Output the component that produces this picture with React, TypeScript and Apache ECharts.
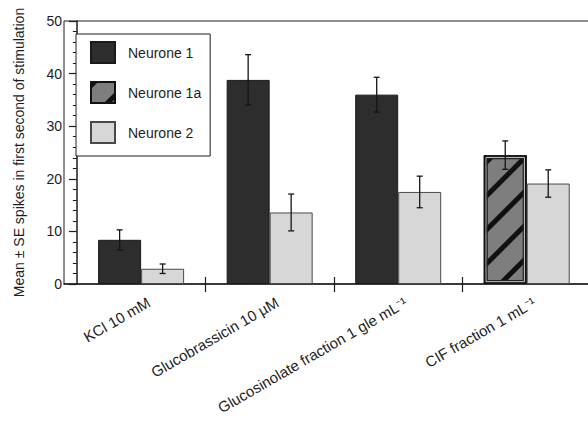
import React, { useEffect, useRef } from "react";
import * as echarts from "echarts";

// Stimulus categories along the x axis
const categories = [
  "KCl 10 mM",
  "Glucobrassicin 10 µM",
  "Glucosinolate fraction 1 gle mL⁻¹",
  "CIF fraction 1 mL⁻¹",
];

// Mean spikes in the first second of stimulation, with standard errors
const neurone1 = [8.4, 38.8, 36.0, null];
const neurone1Se = [1.9, 4.8, 3.3, null];
const neurone1a = [null, null, null, 24.5];
const neurone1aSe = [null, null, null, 2.7];
const neurone2 = [2.9, 13.6, 17.5, 19.1];
const neurone2Se = [0.9, 3.5, 3.0, 2.6];

const seriesNames = ["Neurone 1", "Neurone 1a", "Neurone 2"];

const BAR_W = 43;
const FONT = "'Liberation Sans', Arial, Helvetica, sans-serif";
const INK = "#1e1e1e";

const center = (i: number) => i + 0.5;
const toPoints = (vals: (number | null)[]) =>
  vals.map((v, i) => [center(i), v == null ? "-" : v]);

// [x, low, high, slot] rows for the error whiskers (slot -1 = left bar, +1 = right bar)
function errorRows() {
  const rows: number[][] = [];
  categories.forEach((_, i) => {
    const first = neurone1[i] ?? neurone1a[i];
    const firstSe = neurone1Se[i] ?? neurone1aSe[i];
    if (first != null && firstSe != null) rows.push([center(i), first - firstSe, first + firstSe, -1]);
    const second = neurone2[i];
    const secondSe = neurone2Se[i];
    if (second != null && secondSe != null) rows.push([center(i), second - secondSe, second + secondSe, 1]);
  });
  return rows;
}

// [x, value] rows for the inner frame of the Neurone 1a bars
const frameRows = neurone1a
  .map((v, i) => (v == null ? null : [center(i), v]))
  .filter((r) => r != null) as number[][];

export default function App() {
  const ref = useRef<HTMLDivElement>(null);

  useEffect(() => {
    if (!ref.current) return;
    const chart = echarts.init(ref.current, undefined, { renderer: "svg" });

    const capHalf = 3;
    const xRange = { min: -0.1, max: 4 };
    const boundaries = [1, 2, 3];
    const option: any = {
      animation: false,
      backgroundColor: "#ffffff",
      textStyle: { fontFamily: FONT, color: INK },
      grid: {
        show: true,
        borderColor: INK,
        borderWidth: 1,
        left: 64,
        top: 21,
        width: 527,
        height: 263,
        outerBoundsMode: "none",
        containLabel: false,
      },
      legend: {
        orient: "vertical",
        left: 76,
        top: 34,
        data: seriesNames,
        icon: "rect",
        itemWidth: 24,
        itemHeight: 21,
        itemGap: 17,
        padding: [7, 9, 12, 14],
        borderColor: INK,
        borderWidth: 1,
        backgroundColor: "#ffffff",
        textStyle: { fontSize: 14, color: INK, fontFamily: FONT, padding: [0, 0, 0, 8] },
      },
      xAxis: [
        {
          type: "value",
          position: "bottom",
          ...xRange,
          splitLine: { show: false },
          axisLine: { show: true, onZero: false, lineStyle: { color: INK, width: 1.5 } },
          axisTick: {
            show: true,
            customValues: boundaries,
            length: 8,
            lineStyle: { color: INK, width: 1.2 },
          },
          axisLabel: {
            customValues: categories.map((_, i) => center(i) + 0.06),
            formatter: (v: number) => categories[Math.floor(v)] ?? "",
            rotate: 30,
            fontSize: 15,
            color: INK,
            margin: 17,
            fontFamily: FONT,
          },
        },
        {
          // inward half of the category separator ticks
          type: "value",
          position: "bottom",
          ...xRange,
          splitLine: { show: false },
          axisLine: { show: false, onZero: false },
          axisTick: {
            show: true,
            inside: true,
            customValues: boundaries,
            length: 7,
            lineStyle: { color: INK, width: 1.2 },
          },
          axisLabel: { show: false },
        },
      ],
      yAxis: {
        type: "value",
        min: 0,
        max: 50,
        interval: 10,
        name: "Mean ± SE spikes in first second of stimulation",
        nameLocation: "middle",
        nameGap: 38,
        nameTextStyle: { fontSize: 14, color: INK, fontFamily: FONT },
        splitLine: { show: false },
        axisLine: { show: true, lineStyle: { color: INK, width: 1.5 } },
        axisTick: { show: true, length: 8, lineStyle: { color: INK, width: 1.2 } },
        minorTick: { show: true, splitNumber: 5, length: 4, lineStyle: { color: INK, width: 1 } },
        axisLabel: { fontSize: 14, color: INK, margin: 2, fontFamily: FONT },
      },
      series: [
        {
          name: seriesNames[0],
          type: "bar",
          stack: "first",
          barWidth: BAR_W,
          barGap: "0%",
          data: toPoints(neurone1),
          itemStyle: { color: "#2d2d2d", borderColor: "#1a1a1a", borderWidth: 1 },
        },
        {
          name: seriesNames[1],
          type: "bar",
          stack: "first",
          barWidth: BAR_W,
          barGap: "0%",
          data: toPoints(neurone1a),
          itemStyle: {
            color: "#7e7e7e",
            borderColor: "#111111",
            borderWidth: 2.5,
            decal: {
              symbol: "rect",
              symbolSize: 1,
              color: "#111111",
              dashArrayX: [1, 0],
              dashArrayY: [5, 19],
              rotation: -Math.PI / 4,
            },
          },
        },
        {
          name: seriesNames[2],
          type: "bar",
          barWidth: BAR_W,
          barGap: "0%",
          data: toPoints(neurone2),
          itemStyle: { color: "#d7d7d7", borderColor: "#4a4a4a", borderWidth: 1 },
        },
        {
          // double outline of the Neurone 1a bar: light gap then a thin dark inner line
          type: "custom",
          z: 9,
          silent: true,
          data: frameRows,
          renderItem: (_params: any, api: any) => {
            const top = api.coord([api.value(0), api.value(1)]);
            const base = api.coord([api.value(0), 0]);
            const left = top[0] - BAR_W;
            const h = base[1] - top[1];
            return {
              type: "group",
              children: [
                {
                  type: "rect",
                  shape: { x: left + 2.3, y: top[1] + 2.3, width: BAR_W - 4.6, height: h - 4.6 },
                  style: { fill: "none", stroke: "#c8c8c8", lineWidth: 1 },
                },
                {
                  type: "rect",
                  shape: { x: left + 3.5, y: top[1] + 3.5, width: BAR_W - 7, height: h - 7 },
                  style: { fill: "none", stroke: "#222222", lineWidth: 1.2 },
                },
              ],
            };
          },
        },
        {
          type: "custom",
          z: 10,
          silent: true,
          data: errorRows(),
          encode: { x: 0, y: [1, 2] },
          renderItem: (_params: any, api: any) => {
            const x = api.value(0);
            const lo = api.coord([x, api.value(1)]);
            const hi = api.coord([x, api.value(2)]);
            const cx = lo[0] + api.value(3) * (BAR_W / 2);
            const style = { stroke: "#151515", lineWidth: 1.3 };
            return {
              type: "group",
              children: [
                { type: "line", shape: { x1: cx, y1: lo[1], x2: cx, y2: hi[1] }, style },
                { type: "line", shape: { x1: cx - capHalf, y1: hi[1], x2: cx + capHalf, y2: hi[1] }, style },
                { type: "line", shape: { x1: cx - capHalf, y1: lo[1], x2: cx + capHalf, y2: lo[1] }, style },
              ],
            };
          },
        },
      ],
    };

    chart.setOption(option);
    return () => chart.dispose();
  }, []);

  return <div ref={ref} style={{ width: 588, height: 427, position: "absolute", left: 0, top: 0 }} />;
}
